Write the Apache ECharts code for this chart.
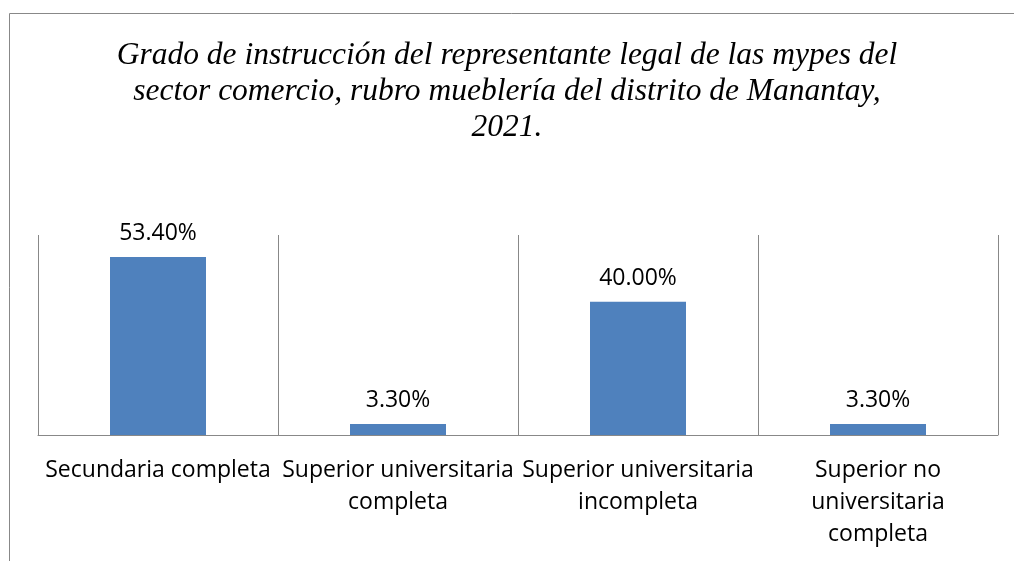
<!DOCTYPE html>
<html>
<head>
<meta charset="utf-8">
<script src="https://cdn.jsdelivr.net/npm/echarts@6/dist/echarts.min.js"></script>
<style>
  html, body { margin: 0; padding: 0; background: #fff; }
  #chart { width: 1014px; height: 561px; }
</style>
</head>
<body>
<div id="chart"></div>
<script>
// categorías y valores (%)
const categories = [
  'Secundaria completa',
  'Superior universitaria\ncompleta',
  'Superior universitaria\nincompleta',
  'Superior no\nuniversitaria\ncompleta',
];
const values = [53.4, 3.3, 40.0, 3.3];
const titleText = 'Grado de instrucción del representante legal de las mypes del\nsector comercio, rubro mueblería del distrito de Manantay,\n2021.';

const chart = echarts.init(document.getElementById('chart'));

chart.setOption({
  animation: false,
  title: {
    text: titleText,
    left: 'center',
    top: 33,
    textStyle: {
      fontFamily: 'Liberation Serif',
      fontStyle: 'italic',
      fontWeight: 'normal',
      fontSize: 31.5,
      lineHeight: 36,
      color: '#000',
    },
  },
  // marco del gráfico
  graphic: [
    { type: 'line', shape: { x1: 9.5, y1: 13.5, x2: 1014, y2: 13.5 }, style: { stroke: '#888', lineWidth: 1 } },
    { type: 'line', shape: { x1: 9.5, y1: 13.5, x2: 9.5, y2: 561 }, style: { stroke: '#888', lineWidth: 1 } },
  ],
  grid: {
    left: 38,
    right: 16,
    top: 235,
    bottom: 126,
  },
  xAxis: {
    type: 'category',
    data: categories,
    axisTick: { show: false },
    axisLine: { lineStyle: { color: '#888', width: 1 } },
    splitLine: { show: true, lineStyle: { color: '#888', width: 1 } },
    axisLabel: {
      interval: 0,
      margin: 19,
      fontFamily: 'Open Sans',
      fontSize: 23,
      lineHeight: 32,
      color: '#000',
    },
  },
  yAxis: {
    type: 'value',
    min: 0,
    max: 60,
    show: false,
  },
  series: [
    {
      type: 'bar',
      data: values,
      barWidth: '40%',
      itemStyle: { color: '#4f81bd' },
      label: {
        show: true,
        position: 'top',
        distance: 12,
        fontFamily: 'Open Sans',
        fontSize: 23,
        color: '#000',
        formatter: (p) => p.value.toFixed(2) + '%',
      },
    },
  ],
});
</script>
</body>
</html>
